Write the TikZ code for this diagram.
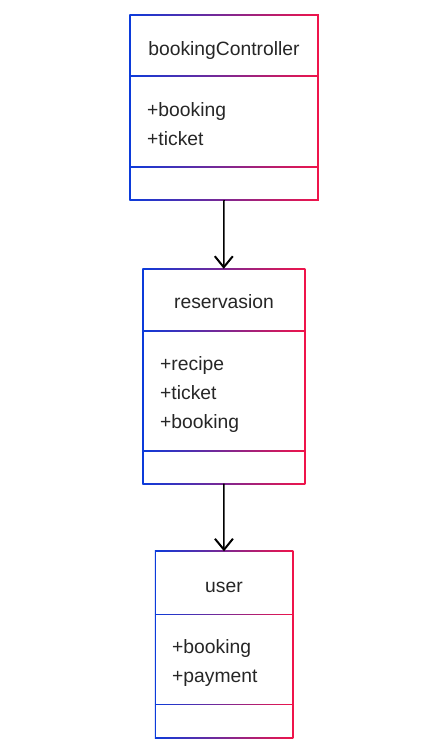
\documentclass[tikz,border=0pt]{standalone}
\usepackage{fontspec}
\setmainfont{Liberation Sans}
\usetikzlibrary{arrows.meta,fit}
\definecolor{cblue}{HTML}{0B3BDB}
\definecolor{cred}{HTML}{F0144A}
\definecolor{ctext}{HTML}{262626}
\newcommand{\classbox}[7]{%
  \node[inner sep=0pt, fit={(#2,#3)(#4,#5)}] (#1) {};
  \shade[left color=cblue, right color=cred] ({#2-0.75},{#3-0.75}) rectangle ({#4+0.75},{#5+0.75});
  \fill[white] ({#2+0.75},{#3+0.75}) rectangle ({#4-0.75},{#6-0.75});
  \fill[white] ({#2+0.75},{#6+0.75}) rectangle ({#4-0.75},{#7-0.75});
  \fill[white] ({#2+0.75},{#7+0.75}) rectangle ({#4-0.75},{#5-0.75});
}
\begin{document}
\begin{tikzpicture}[x=1pt,y=-1pt,
  txt/.style={inner sep=0pt, text=ctext, font=\fontsize{19.3}{23}\selectfont},
  title/.style={txt, anchor=base},
  attr/.style={txt, anchor=base west},
  arr/.style={line width=1.5pt, -{Straight Barb[length=11pt,width=18pt,line width=2pt]}}]
\fill[white] (0,0) rectangle (445,755);
\useasboundingbox (0,0) rectangle (445,755);

\classbox{b1}{130}{15}{318}{200}{76}{167}
\node[title] (t1) at (224,55) {bookingController};
\node[attr] (a11) at (147,116) {+booking};
\node[attr] (a12) at (147,145) {+ticket};

\classbox{b2}{143}{269}{304.5}{483.5}{331}{451}
\node[title] (t2) at (224,308.5) {reservasion};
\node[attr] (a21) at (160,370) {+recipe};
\node[attr] (a22) at (160,399) {+ticket};
\node[attr] (a23) at (160,428) {+booking};

\classbox{b3}{155.5}{551.5}{292.5}{737.5}{614.5}{704.5}
\node[title] (t3) at (224,592) {user};
\node[attr] (a31) at (172,653) {+booking};
\node[attr] (a32) at (172,682) {+payment};

\draw[arr] (b1.south) -- (b2.north);
\draw[arr] (b2.south) -- (b3.north);
\end{tikzpicture}
\end{document}
